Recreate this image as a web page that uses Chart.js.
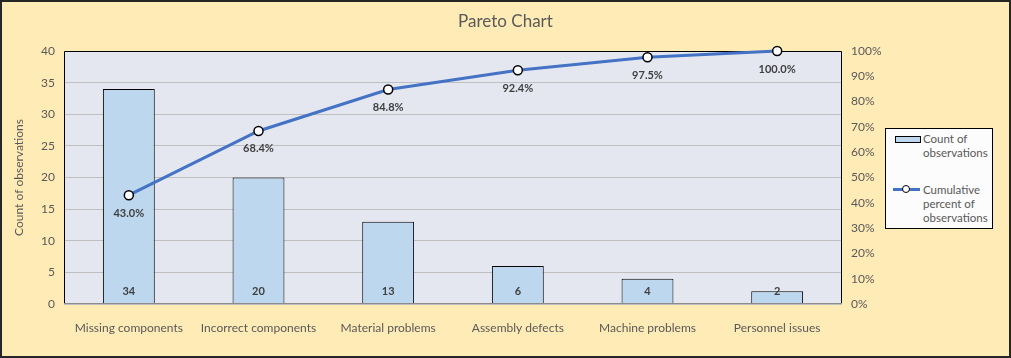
<!DOCTYPE html>
<html>
<head>
<meta charset="utf-8">
<script src="https://cdn.jsdelivr.net/npm/chart.js@4"></script>
<style>
  body { margin: 0; }
  #wrap { position: relative; width: 1011px; height: 358px; background: #FFEBB6; }
  #legend {
    position: absolute; left: 885px; top: 128px; width: 108px; height: 101px;
    border: 1px solid #000; background: #FCFCFC; box-sizing: border-box;
    font-family: Lato, "Open Sans", sans-serif; font-size: 11.5px; color: #595959; line-height: 14px;
  }
  .item { position: absolute; left: 37px; }
  .swatch-bar { position: absolute; left: 9px; top: 7px; width: 24px; height: 5px; background: #BDD7EE; border: 1px solid #000; }
  .swatch-line { position: absolute; left: 7px; top: 59px; width: 27px; height: 3px; background: #4472C4; }
  .swatch-dot { position: absolute; left: 16px; top: 56px; width: 6px; height: 6px; border: 1.5px solid #000; border-radius: 50%; background: #fff; }
</style>
</head>
<body>
<div id="wrap">
  <canvas id="paretoChart" width="1011" height="358"></canvas>
  <div id="legend">
    <div class="swatch-bar"></div>
    <div class="item" style="top:3px">Count of<br>observations</div>
    <div class="swatch-line"></div>
    <div class="swatch-dot"></div>
    <div class="item" style="top:54px">Cumulative<br>percent of<br>observations</div>
  </div>
</div>
<script>
const categories = [
  "Missing components",
  "Incorrect components",
  "Material problems",
  "Assembly defects",
  "Machine problems",
  "Personnel issues"
];
const counts = [34, 20, 13, 6, 4, 2];
const cumulativePercent = [43.0, 68.4, 84.8, 92.4, 97.5, 100.0];

const textColor = "#595959";
const fontFamily = "Lato, 'Open Sans', sans-serif";

// plot background, borders, title and value labels
const paretoDecor = {
  id: "paretoDecor",
  beforeDraw(chart) {
    const { ctx, chartArea } = chart;
    ctx.save();
    ctx.fillStyle = "#E4E7F0";
    ctx.fillRect(chartArea.left, chartArea.top, chartArea.right - chartArea.left, chartArea.bottom - chartArea.top);
    ctx.fillStyle = textColor;
    ctx.font = "17px " + fontFamily;
    ctx.textAlign = "center";
    ctx.textBaseline = "middle";
    ctx.fillText("Pareto Chart", chart.width / 2, 22);
    ctx.restore();
  },
  beforeDatasetsDraw(chart) {
    const { ctx, chartArea } = chart;
    ctx.save();
    ctx.strokeStyle = "#000";
    ctx.lineWidth = 1;
    ctx.beginPath();
    ctx.moveTo(chartArea.left + 0.5, chartArea.bottom);
    ctx.lineTo(chartArea.left + 0.5, chartArea.top + 0.5);
    ctx.lineTo(chartArea.right - 0.5, chartArea.top + 0.5);
    ctx.lineTo(chartArea.right - 0.5, chartArea.bottom);
    ctx.stroke();
    ctx.restore();
  },
  afterDraw(chart) {
    const { ctx, chartArea } = chart;
    ctx.save();
    ctx.strokeStyle = "#8C8C8C";
    ctx.lineWidth = 1;
    ctx.beginPath();
    ctx.moveTo(chartArea.left, chartArea.bottom - 0.5);
    ctx.lineTo(chartArea.right, chartArea.bottom - 0.5);
    ctx.stroke();

    ctx.fillStyle = "#404040";
    ctx.font = "bold 11px " + fontFamily;
    ctx.textAlign = "center";
    ctx.textBaseline = "middle";
    chart.getDatasetMeta(1).data.forEach((bar, i) => {
      ctx.fillText(String(counts[i]), bar.x, chartArea.bottom - 13);
    });
    chart.getDatasetMeta(0).data.forEach((pt, i) => {
      ctx.fillText(cumulativePercent[i].toFixed(1) + "%", pt.x, pt.y + 18);
    });

    ctx.lineWidth = 2;
    ctx.strokeStyle = "#262626";
    ctx.strokeRect(1, 1, chart.width - 2, chart.height - 2);
    ctx.restore();
  }
};

new Chart(document.getElementById("paretoChart"), {
  data: {
    labels: categories,
    datasets: [
      {
        type: "line",
        label: "Cumulative percent of observations",
        data: cumulativePercent,
        yAxisID: "y1",
        borderColor: "#4472C4",
        borderWidth: 3,
        pointRadius: 4.5,
        pointBackgroundColor: "#fff",
        pointBorderColor: "#000",
        pointBorderWidth: 1.5,
        tension: 0,
        clip: false,
        order: 0
      },
      {
        type: "bar",
        label: "Count of observations",
        data: counts,
        yAxisID: "y",
        backgroundColor: "#BDD7EE",
        borderColor: "#000",
        borderWidth: 1,
        categoryPercentage: 1,
        barPercentage: 0.4,
        order: 1
      }
    ]
  },
  plugins: [paretoDecor],
  options: {
    responsive: false,
    animation: false,
    layout: { padding: { top: 51, left: 0, right: 0, bottom: 0 } },
    plugins: {
      legend: { display: false },
      title: { display: false },
      tooltip: { enabled: false }
    },
    scales: {
      x: {
        afterFit(scale) { scale.height = 54; },
        grid: { display: false },
        border: { display: false },
        ticks: { color: textColor, font: { family: fontFamily, size: 12 }, padding: 9, maxRotation: 0 }
      },
      y: {
        position: "left",
        min: 0,
        max: 40,
        afterFit(scale) { scale.width = 64; },
        ticks: { stepSize: 5, color: textColor, font: { family: fontFamily, size: 12 }, padding: 9 },
        grid: { color: "#BFBFBF", drawTicks: false },
        border: { display: false },
        title: {
          display: true,
          text: "Count of observations",
          color: textColor,
          font: { family: fontFamily, size: 12 },
          padding: { top: 12, bottom: 0 }
        }
      },
      y1: {
        position: "right",
        min: 0,
        max: 100,
        afterFit(scale) { scale.width = 169; },
        ticks: {
          stepSize: 10,
          color: textColor,
          font: { family: fontFamily, size: 12 },
          padding: 9,
          callback: v => v + "%"
        },
        grid: { display: false, drawTicks: false },
        border: { display: false }
      }
    }
  }
});
</script>
</body>
</html>
